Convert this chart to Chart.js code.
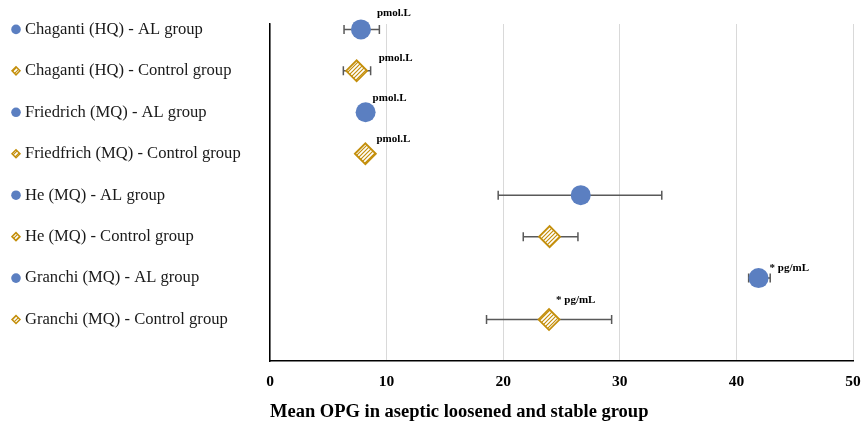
<!DOCTYPE html>
<html>
<head>
<meta charset="utf-8">
<script src="https://cdn.jsdelivr.net/npm/chart.js@4.4.1/dist/chart.umd.min.js"></script>
<style>
  html, body { margin: 0; padding: 0; background: #fff; }
  #wrap { width: 861px; height: 427px; }
</style>
</head>
<body>
<div id="wrap"><canvas id="opgChart" width="861" height="427"></canvas></div>
<script>
// Mean OPG forest-style plot: one row per study group, with error bars

const GROUPS = [
  'Chaganti (HQ) - AL group',
  'Chaganti (HQ) - Control group',
  'Friedrich (MQ) - AL group',
  'Friedfrich (MQ) - Control group',
  'He (MQ) - AL group',
  'He (MQ) - Control group',
  'Granchi (MQ) - AL group',
  'Granchi (MQ) - Control group'
];
const KINDS = ['AL', 'Control', 'AL', 'Control', 'AL', 'Control', 'AL', 'Control'];
const MEANS = [7.8, 7.43, 8.2, 8.18, 26.65, 23.98, 41.9, 23.93];
const ERR_LOW = [6.35, 6.29, null, null, 19.57, 21.72, 41.05, 18.57];
const ERR_HIGH = [9.38, 8.63, null, null, 33.6, 26.41, 42.9, 29.3];
const UNITS = ['pmol.L', 'pmol.L', 'pmol.L', 'pmol.L', '', '', '* pg/mL', '* pg/mL'];
const X_TICKS = [0, 10, 20, 30, 40, 50];
const X_TITLE = 'Mean OPG in aseptic loosened and stable group';

// rows counted from the bottom, first group on top
const ROWS = GROUPS.map((_, i) => GROUPS.length - i);

// label nudges (px) relative to the marker
const UNIT_OFFSETS = [[16, -16], [22, -13], [7, -14], [11, -15], [0, 0], [0, 0], [11, -10], [7, -19]];

const BLUE = '#5b7fc1';
const GOLD = '#c48f0c';
const SERIF = '"Liberation Serif", "Times New Roman", serif';

function hatch(color) {
  const c = document.createElement('canvas');
  c.width = 4; c.height = 4;
  const g = c.getContext('2d');
  g.fillStyle = '#fff';
  g.fillRect(0, 0, 4, 4);
  g.strokeStyle = color;
  g.lineWidth = 1.2;
  g.beginPath();
  g.moveTo(0, 4); g.lineTo(4, 0);
  g.moveTo(-1, 1); g.lineTo(1, -1);
  g.moveTo(3, 5); g.lineTo(5, 3);
  g.stroke();
  return g.createPattern(c, 'repeat');
}

function pointsFor(kind) {
  const pts = [];
  MEANS.forEach((m, i) => { if (KINDS[i] === kind) pts.push({ x: m, y: ROWS[i] }); });
  return pts;
}

const errorBars = {
  id: 'errorBars',
  beforeDatasetsDraw(chart) {
    const { ctx, scales: { x, y } } = chart;
    ctx.save();
    ctx.strokeStyle = '#595959';
    ctx.lineWidth = 1.5;
    MEANS.forEach((m, i) => {
      if (ERR_LOW[i] == null) return;
      const x1 = x.getPixelForValue(ERR_LOW[i]);
      const x2 = x.getPixelForValue(ERR_HIGH[i]);
      const py = y.getPixelForValue(ROWS[i]);
      ctx.beginPath();
      ctx.moveTo(x1, py); ctx.lineTo(x2, py);
      ctx.moveTo(x1, py - 4.5); ctx.lineTo(x1, py + 4.5);
      ctx.moveTo(x2, py - 4.5); ctx.lineTo(x2, py + 4.5);
      ctx.stroke();
    });
    ctx.restore();
  },
  afterDatasetsDraw(chart) {
    const { ctx, scales: { x, y } } = chart;
    ctx.save();
    ctx.font = 'bold 11px ' + SERIF;
    ctx.fillStyle = '#000';
    ctx.textAlign = 'left';
    ctx.textBaseline = 'middle';
    MEANS.forEach((m, i) => {
      if (!UNITS[i]) return;
      const [dx, dy] = UNIT_OFFSETS[i];
      ctx.fillText(UNITS[i], x.getPixelForValue(m) + dx, y.getPixelForValue(ROWS[i]) + dy);
    });
    ctx.restore();
  }
};

const sideLegend = {
  id: 'sideLegend',
  afterDraw(chart) {
    const { ctx, scales: { y } } = chart;
    ctx.save();
    ctx.font = '16.6px ' + SERIF;
    ctx.textAlign = 'left';
    ctx.textBaseline = 'middle';
    GROUPS.forEach((name, i) => {
      const py = y.getPixelForValue(ROWS[i]);
      const mx = 16;
      ctx.beginPath();
      if (KINDS[i] === 'AL') {
        ctx.fillStyle = BLUE;
        ctx.arc(mx, py, 4.8, 0, Math.PI * 2);
        ctx.fill();
      } else {
        ctx.fillStyle = legendHatch;
        ctx.strokeStyle = GOLD;
        ctx.lineWidth = 1.5;
        ctx.moveTo(mx - 4, py); ctx.lineTo(mx, py - 4);
        ctx.lineTo(mx + 4, py); ctx.lineTo(mx, py + 4);
        ctx.closePath();
        ctx.fill();
        ctx.stroke();
      }
      ctx.fillStyle = '#1a1a1a';
      ctx.fillText(name, 25, py);
    });
    ctx.restore();
  }
};

const legendHatch = hatch(GOLD);

const ctx = document.getElementById('opgChart').getContext('2d');
new Chart(ctx, {
  type: 'scatter',
  data: {
    datasets: [
      {
        label: 'AL group',
        data: pointsFor('AL'),
        pointStyle: 'circle',
        pointRadius: 10,
        backgroundColor: BLUE,
        borderColor: BLUE,
        borderWidth: 0,
        clip: false
      },
      {
        label: 'Control group',
        data: pointsFor('Control'),
        pointStyle: 'rectRot',
        pointRadius: 10.5,
        backgroundColor: hatch(GOLD),
        borderColor: GOLD,
        borderWidth: 1.8,
        clip: false
      }
    ]
  },
  options: {
    responsive: false,
    animation: false,
    layout: { autoPadding: false, padding: { left: 270, right: 8, top: 24, bottom: 0 } },
    plugins: {
      legend: { display: false },
      tooltip: { enabled: false }
    },
    scales: {
      x: {
        type: 'linear',
        min: 0,
        max: 50,
        afterBuildTicks: (s) => { s.ticks = X_TICKS.map(v => ({ value: v })); },
        afterFit: (s) => { s.height = 66; s.paddingLeft = 0; s.paddingRight = 0; },
        grid: { color: '#d9d9d9', lineWidth: 1, drawTicks: false },
        border: { display: true, color: '#000', width: 1.5 },
        ticks: { color: '#000', padding: 12, font: { family: SERIF, size: 15.5, weight: 'bold' } },
        title: {
          display: true,
          text: X_TITLE,
          align: 'start',
          color: '#000',
          padding: { top: 10, bottom: 4 },
          font: { family: SERIF, size: 18.5, weight: 'bold' }
        }
      },
      y: {
        type: 'linear',
        min: 0,
        max: 8.13,
        afterFit: (s) => { s.width = 0; },
        grid: { display: false },
        border: { display: true, color: '#000', width: 1.5 },
        ticks: { display: false }
      }
    }
  },
  plugins: [errorBars, sideLegend]
});
</script>
</body>
</html>
